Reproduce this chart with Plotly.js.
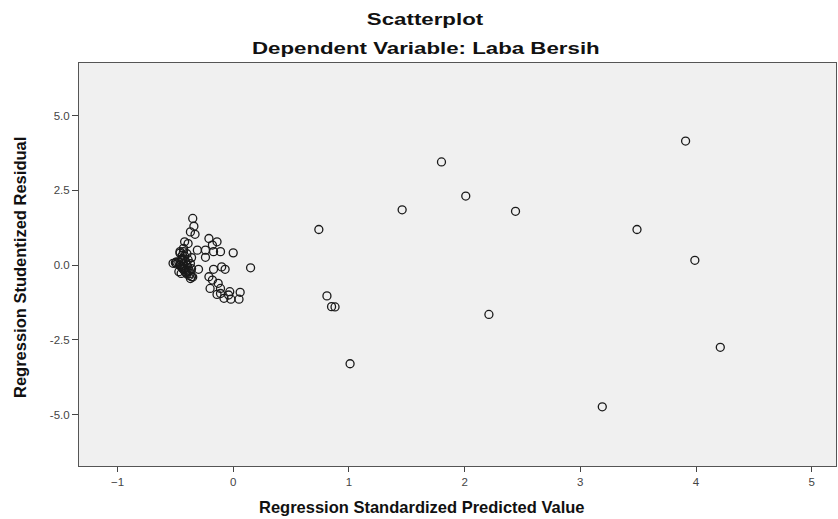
<!DOCTYPE html>
<html>
<head>
<meta charset="utf-8">
<script src="https://cdn.plot.ly/plotly-3.0.1.min.js"></script>
<style>html,body{margin:0;padding:0;background:#fff;}#chart{width:838px;height:519px;}</style>
</head>
<body>
<div id="chart"></div>
<script>
// Regression Standardized Predicted Value
var predicted = [
  3.91, 1.80, 2.01, 1.46, 2.44, 0.74, 3.49, 3.99, 0.81, 0.85, 0.88, 2.21, 4.21, 1.01, 3.19, 0.15,
  -0.35, -0.34, -0.37, -0.33, -0.42, -0.39, -0.21, -0.14, -0.18, -0.31, -0.24, -0.17, -0.11, 0.00,
  -0.24, -0.46, -0.44, -0.43, -0.52, -0.49, -0.46, -0.44, -0.42, -0.39, -0.36, -0.37, -0.30, -0.17,
  -0.10, -0.07, -0.21, -0.18, -0.20, -0.13, -0.11, -0.11, -0.03, 0.06, -0.08, -0.02, 0.05, -0.04, -0.14,
  -0.50, -0.49, -0.47, -0.46, -0.45, -0.45, -0.44, -0.44, -0.43, -0.43, -0.42, -0.42, -0.41, -0.41,
  -0.40, -0.40, -0.39, -0.39, -0.38, -0.38, -0.37, -0.37, -0.36, -0.35, -0.36, -0.46, -0.43, -0.40,
  -0.47, -0.45
];
// Regression Studentized Residual
var residual = [
  4.15, 3.45, 2.31, 1.85, 1.80, 1.19, 1.19, 0.16, -1.03, -1.39, -1.40, -1.65, -2.75, -3.30, -4.74, -0.09,
  1.56, 1.30, 1.11, 1.03, 0.78, 0.72, 0.89, 0.78, 0.67, 0.50, 0.50, 0.45, 0.45, 0.41,
  0.26, 0.45, 0.33, 0.56, 0.06, 0.11, -0.01, 0.17, -0.11, -0.22, -0.39, -0.45, -0.14, -0.14,
  -0.06, -0.14, -0.39, -0.50, -0.78, -0.61, -0.78, -0.95, -0.89, -0.91, -1.11, -1.14, -1.14, -1.00, -0.98,
  0.08, 0.04, 0.10, 0.00, 0.15, -0.05, 0.22, -0.10, 0.05, -0.15, 0.30, -0.20, 0.12, -0.25,
  0.00, -0.30, 0.18, -0.08, -0.18, -0.35, 0.05, -0.28, -0.12, -0.40, 0.25, 0.40, 0.45, 0.38,
  -0.22, -0.28
];
var xTickVals = [-1, 0, 1, 2, 3, 4, 5];
var yTickVals = [-5, -2.5, 0, 2.5, 5];
var yTickText = ['-5.0', '-2.5', '0.0', '2.5', '5.0'];

var trace = {
  x: predicted,
  y: residual,
  type: 'scatter',
  mode: 'markers',
  marker: {symbol: 'circle-open', size: 8, color: '#1a1a1a', line: {width: 1.3, color: '#1a1a1a'}},
  hoverinfo: 'x+y'
};

var font = 'Liberation Sans, Arial, sans-serif';
var L = 79, R = 836, T = 63, B = 466, W = 838, H = 519;
function px(x) { return (x - L) / (R - L); }
function py(y) { return (B - y) / (B - T); }

var layout = {
  width: W, height: H,
  margin: {l: L, r: W - R, t: T, b: H - B},
  paper_bgcolor: '#ffffff',
  plot_bgcolor: '#f0f0f0',
  showlegend: false,
  font: {family: font, size: 11, color: '#333'},
  xaxis: {
    range: [-1.333, 5.21],
    tickvals: xTickVals,
    ticks: 'outside', ticklen: 5, tickwidth: 1, tickcolor: '#444',
    showgrid: false, zeroline: false,
    showline: true, mirror: true, linecolor: '#555', linewidth: 1,
    tickfont: {family: font, size: 11.5, color: '#444'}
  },
  yaxis: {
    range: [-6.72, 6.76],
    tickvals: yTickVals,
    ticktext: yTickText,
    ticks: 'outside', ticklen: 6, tickwidth: 1, tickcolor: '#444',
    showgrid: false, zeroline: false,
    showline: true, mirror: true, linecolor: '#555', linewidth: 1,
    tickfont: {family: font, size: 11.5, color: '#444'}
  },
  annotations: [
    {text: '<b>Scatterplot</b>', xref: 'paper', yref: 'paper', x: px(425), y: py(19), xanchor: 'center', yanchor: 'middle', showarrow: false, font: {family: font, size: 16.5, color: '#111'}},
    {text: '<b>Dependent Variable: Laba Bersih</b>', xref: 'paper', yref: 'paper', x: px(426), y: py(48), xanchor: 'center', yanchor: 'middle', showarrow: false, font: {family: font, size: 16.5, color: '#111'}},
    {text: '<b>Regression Standardized Predicted Value</b>', xref: 'paper', yref: 'paper', x: px(422), y: py(507), xanchor: 'center', yanchor: 'middle', showarrow: false, font: {family: font, size: 16.5, color: '#111'}},
    {text: '<b>Regression Studentized Residual</b>', xref: 'paper', yref: 'paper', x: px(20), y: py(268), xanchor: 'center', yanchor: 'middle', textangle: -90, showarrow: false, font: {family: font, size: 16.5, color: '#111'}}
  ]
};

Plotly.newPlot('chart', [trace], layout, {displayModeBar: false, staticPlot: true}).then(function (gd) {
  // the reference's chart titles are drawn horizontally stretched
  var texts = gd.querySelectorAll('.annotation-text');
  [0, 1].forEach(function (i) {
    var t = texts[i];
    if (!t) return;
    var bb = t.getBBox();
    var cx = bb.x + bb.width / 2;
    var prev = t.getAttribute('transform') || '';
    t.setAttribute('transform', prev + ' translate(' + cx + ',0) scale(1.35,1) translate(' + (-cx) + ',0)');
  });
});
</script>
</body>
</html>
